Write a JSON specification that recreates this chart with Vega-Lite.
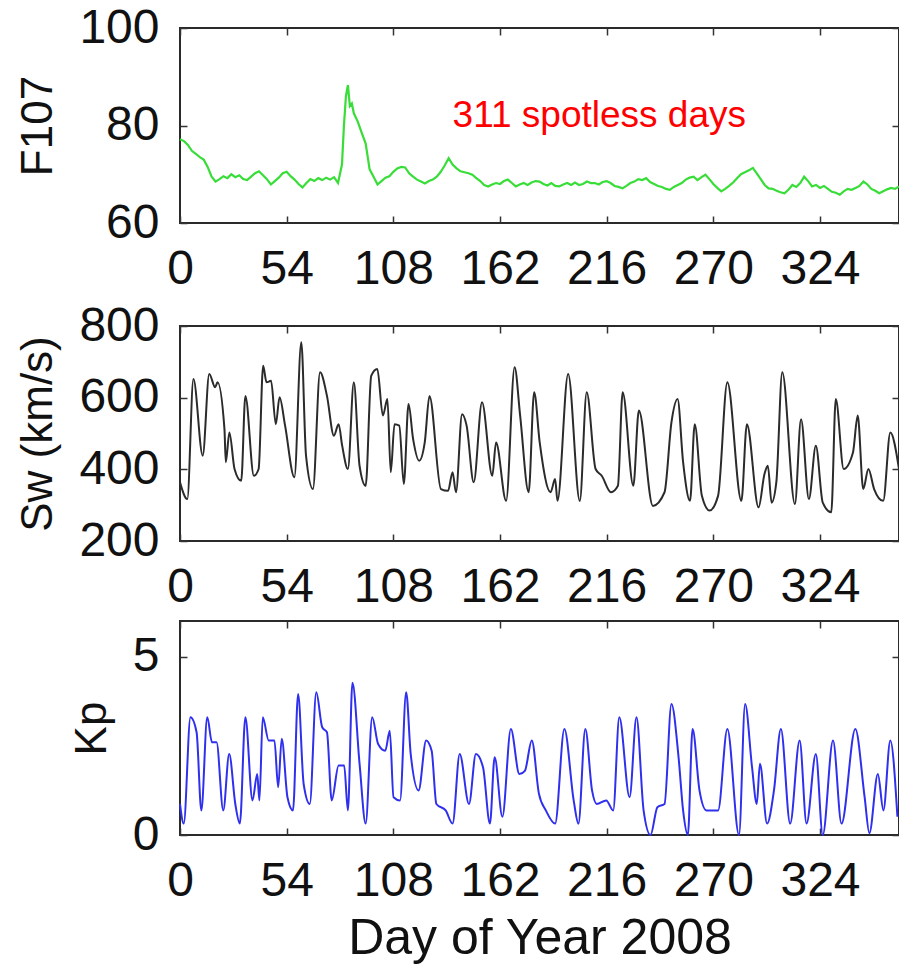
{
  "$schema": "https://vega.github.io/schema/vega-lite/v6.json",
  "background": "#ffffff",
  "padding": {"left": 15, "top": 3, "right": 0, "bottom": 2},
  "spacing": 7,
  "config": {
    "font": "Liberation Sans",
    "view": {"stroke": "#2a2a2a", "strokeWidth": 2},
    "axis": {
      "domain": false,
      "grid": false,
      "tickColor": "#333333",
      "tickSize": -7,
      "tickWidth": 1.5,
      "labelFontSize": 48,
      "labelColor": "#111111",
      "labelFlush": false,
      "labelOverlap": false,
      "titleFontSize": 44,
      "titleFontWeight": "normal",
      "titleColor": "#111111"
    },
    "axisX": {"labelPadding": 29},
    "axisY": {"labelPadding": 28, "titlePadding": 18}
  },
  "datasets": {
    "f107": [
      {"day": 0, "v": 77.2}, {"day": 2, "v": 76.8}, {"day": 4, "v": 76.0}, {"day": 6, "v": 74.8}, {"day": 8, "v": 74.2},
      {"day": 10, "v": 73.5}, {"day": 12, "v": 73.0}, {"day": 14, "v": 71.5}, {"day": 16, "v": 69.5}, {"day": 18, "v": 68.5},
      {"day": 20, "v": 69.0}, {"day": 22, "v": 69.6}, {"day": 24, "v": 69.2}, {"day": 26, "v": 70.0}, {"day": 28, "v": 69.4},
      {"day": 30, "v": 69.8}, {"day": 32, "v": 69.0}, {"day": 34, "v": 68.8}, {"day": 36, "v": 69.5}, {"day": 38, "v": 70.2},
      {"day": 40, "v": 70.6}, {"day": 42, "v": 69.8}, {"day": 44, "v": 69.0}, {"day": 46, "v": 67.9}, {"day": 48, "v": 68.6},
      {"day": 50, "v": 69.3}, {"day": 52, "v": 70.2}, {"day": 54, "v": 70.5}, {"day": 56, "v": 69.6}, {"day": 58, "v": 68.9},
      {"day": 60, "v": 68.0}, {"day": 62, "v": 67.3}, {"day": 64, "v": 68.2}, {"day": 66, "v": 69.0}, {"day": 68, "v": 68.6},
      {"day": 70, "v": 69.2}, {"day": 72, "v": 68.8}, {"day": 74, "v": 69.3}, {"day": 76, "v": 68.9}, {"day": 78, "v": 69.4},
      {"day": 80, "v": 68.2}, {"day": 82, "v": 72.0}, {"day": 83, "v": 80.0}, {"day": 84, "v": 86.0}, {"day": 85, "v": 88.3},
      {"day": 86, "v": 84.0}, {"day": 87, "v": 84.5}, {"day": 88, "v": 82.5}, {"day": 90, "v": 80.8}, {"day": 92, "v": 78.5},
      {"day": 94, "v": 76.3}, {"day": 96, "v": 71.0}, {"day": 98, "v": 69.5}, {"day": 100, "v": 67.9}, {"day": 102, "v": 68.6},
      {"day": 104, "v": 69.3}, {"day": 106, "v": 69.6}, {"day": 108, "v": 70.5}, {"day": 110, "v": 71.2}, {"day": 112, "v": 71.5},
      {"day": 114, "v": 71.4}, {"day": 116, "v": 70.2}, {"day": 118, "v": 69.5}, {"day": 120, "v": 68.9}, {"day": 122, "v": 68.5},
      {"day": 124, "v": 68.1}, {"day": 126, "v": 68.6}, {"day": 128, "v": 68.9}, {"day": 130, "v": 69.5}, {"day": 132, "v": 70.5},
      {"day": 134, "v": 71.8}, {"day": 136, "v": 73.3}, {"day": 138, "v": 72.0}, {"day": 140, "v": 71.2}, {"day": 142, "v": 70.6},
      {"day": 144, "v": 70.4}, {"day": 146, "v": 70.2}, {"day": 148, "v": 69.9}, {"day": 150, "v": 69.2}, {"day": 152, "v": 68.6},
      {"day": 154, "v": 67.8}, {"day": 156, "v": 67.5}, {"day": 158, "v": 67.9}, {"day": 160, "v": 68.2}, {"day": 162, "v": 68.0},
      {"day": 164, "v": 68.6}, {"day": 166, "v": 68.9}, {"day": 168, "v": 68.2}, {"day": 170, "v": 67.5}, {"day": 172, "v": 67.9},
      {"day": 174, "v": 68.2}, {"day": 176, "v": 67.8}, {"day": 178, "v": 68.3}, {"day": 180, "v": 68.6}, {"day": 182, "v": 68.5},
      {"day": 184, "v": 68.0}, {"day": 186, "v": 67.7}, {"day": 188, "v": 68.2}, {"day": 190, "v": 67.6}, {"day": 192, "v": 67.5},
      {"day": 194, "v": 67.9}, {"day": 196, "v": 68.2}, {"day": 198, "v": 67.8}, {"day": 200, "v": 68.3}, {"day": 202, "v": 67.8},
      {"day": 204, "v": 68.0}, {"day": 206, "v": 68.5}, {"day": 208, "v": 68.2}, {"day": 210, "v": 68.2}, {"day": 212, "v": 67.9},
      {"day": 214, "v": 68.4}, {"day": 216, "v": 68.6}, {"day": 218, "v": 68.2}, {"day": 220, "v": 67.6}, {"day": 222, "v": 67.4},
      {"day": 224, "v": 67.1}, {"day": 226, "v": 67.6}, {"day": 228, "v": 68.2}, {"day": 230, "v": 68.5}, {"day": 232, "v": 69.0},
      {"day": 234, "v": 68.8}, {"day": 236, "v": 69.2}, {"day": 238, "v": 68.4}, {"day": 240, "v": 68.0}, {"day": 242, "v": 67.6},
      {"day": 244, "v": 67.4}, {"day": 246, "v": 67.0}, {"day": 248, "v": 66.8}, {"day": 250, "v": 67.4}, {"day": 252, "v": 67.8},
      {"day": 254, "v": 68.2}, {"day": 256, "v": 68.9}, {"day": 258, "v": 69.3}, {"day": 260, "v": 69.5}, {"day": 262, "v": 68.8},
      {"day": 264, "v": 69.4}, {"day": 266, "v": 69.9}, {"day": 268, "v": 69.0}, {"day": 270, "v": 68.0}, {"day": 272, "v": 67.2},
      {"day": 274, "v": 66.5}, {"day": 276, "v": 67.0}, {"day": 278, "v": 67.6}, {"day": 280, "v": 68.3}, {"day": 282, "v": 69.2},
      {"day": 284, "v": 70.0}, {"day": 286, "v": 70.4}, {"day": 288, "v": 70.8}, {"day": 290, "v": 71.3}, {"day": 292, "v": 70.2},
      {"day": 294, "v": 69.0}, {"day": 296, "v": 67.8}, {"day": 298, "v": 67.1}, {"day": 300, "v": 67.0}, {"day": 302, "v": 66.6},
      {"day": 304, "v": 66.3}, {"day": 306, "v": 66.1}, {"day": 308, "v": 66.8}, {"day": 310, "v": 67.8}, {"day": 312, "v": 67.4},
      {"day": 314, "v": 68.2}, {"day": 316, "v": 69.5}, {"day": 318, "v": 68.6}, {"day": 320, "v": 67.5}, {"day": 322, "v": 67.8},
      {"day": 324, "v": 67.2}, {"day": 326, "v": 67.6}, {"day": 328, "v": 67.0}, {"day": 330, "v": 66.4}, {"day": 332, "v": 66.2},
      {"day": 334, "v": 65.8}, {"day": 336, "v": 66.5}, {"day": 338, "v": 67.0}, {"day": 340, "v": 66.8}, {"day": 342, "v": 67.2},
      {"day": 344, "v": 67.6}, {"day": 346, "v": 68.5}, {"day": 348, "v": 67.9}, {"day": 350, "v": 67.0}, {"day": 352, "v": 66.6},
      {"day": 354, "v": 66.1}, {"day": 356, "v": 66.5}, {"day": 358, "v": 66.9}, {"day": 360, "v": 67.2}, {"day": 362, "v": 67.0},
      {"day": 364, "v": 67.5}
    ],
    "sw": [
      {"day": 0, "v": 364}, {"day": 3.7, "v": 317}, {"day": 6.8, "v": 652}, {"day": 11.5, "v": 438}, {"day": 14.8, "v": 666},
      {"day": 17.8, "v": 629}, {"day": 19, "v": 643}, {"day": 22.5, "v": 513}, {"day": 23.2, "v": 420}, {"day": 25, "v": 503},
      {"day": 27.6, "v": 401}, {"day": 31, "v": 368}, {"day": 33.1, "v": 605}, {"day": 37.4, "v": 382}, {"day": 39.8, "v": 401},
      {"day": 42.1, "v": 689}, {"day": 43.8, "v": 643}, {"day": 46.1, "v": 647}, {"day": 48.5, "v": 526}, {"day": 50.4, "v": 601},
      {"day": 53.2, "v": 522}, {"day": 57.9, "v": 378}, {"day": 61.4, "v": 755}, {"day": 63.8, "v": 438}, {"day": 67.3, "v": 345},
      {"day": 70.9, "v": 671}, {"day": 74.4, "v": 605}, {"day": 77.9, "v": 494}, {"day": 80.3, "v": 526}, {"day": 82.1, "v": 466},
      {"day": 85, "v": 401}, {"day": 88, "v": 643}, {"day": 90.9, "v": 410}, {"day": 94, "v": 354}, {"day": 96.8, "v": 661},
      {"day": 99.9, "v": 680}, {"day": 102.7, "v": 550}, {"day": 105, "v": 596}, {"day": 106.7, "v": 392}, {"day": 108.6, "v": 526},
      {"day": 111, "v": 522}, {"day": 113.3, "v": 359}, {"day": 115.7, "v": 582}, {"day": 118, "v": 485}, {"day": 121.1, "v": 424},
      {"day": 123.9, "v": 475}, {"day": 126.3, "v": 605}, {"day": 132.1, "v": 345}, {"day": 135.7, "v": 340}, {"day": 138, "v": 392},
      {"day": 139.7, "v": 336}, {"day": 142.8, "v": 554}, {"day": 145.1, "v": 522}, {"day": 148.7, "v": 364}, {"day": 152.9, "v": 587},
      {"day": 158.1, "v": 382}, {"day": 160, "v": 475}, {"day": 165.1, "v": 312}, {"day": 169.4, "v": 685}, {"day": 172.2, "v": 550},
      {"day": 176.5, "v": 336}, {"day": 179.3, "v": 615}, {"day": 182.1, "v": 475}, {"day": 187.6, "v": 336}, {"day": 189.9, "v": 373},
      {"day": 191.1, "v": 312}, {"day": 196.5, "v": 666}, {"day": 202.4, "v": 312}, {"day": 205.9, "v": 615}, {"day": 210.4, "v": 401},
      {"day": 213.5, "v": 382}, {"day": 218.2, "v": 336}, {"day": 221.7, "v": 354}, {"day": 224.1, "v": 615}, {"day": 229.5, "v": 354},
      {"day": 232.3, "v": 564}, {"day": 239.4, "v": 298}, {"day": 245.3, "v": 336}, {"day": 248.8, "v": 531}, {"day": 251.9, "v": 596},
      {"day": 254.7, "v": 420}, {"day": 258.2, "v": 312}, {"day": 260.6, "v": 526}, {"day": 264.2, "v": 326}, {"day": 268.1, "v": 285},
      {"day": 272.4, "v": 326}, {"day": 277.1, "v": 643}, {"day": 284.2, "v": 312}, {"day": 287, "v": 526}, {"day": 292.9, "v": 294},
      {"day": 295.9, "v": 387}, {"day": 297.6, "v": 410}, {"day": 299.5, "v": 307}, {"day": 301.9, "v": 364}, {"day": 304.9, "v": 671},
      {"day": 311.3, "v": 303}, {"day": 314.4, "v": 540}, {"day": 318.4, "v": 317}, {"day": 321.9, "v": 466}, {"day": 325.4, "v": 307},
      {"day": 329.7, "v": 280}, {"day": 332, "v": 596}, {"day": 336, "v": 401}, {"day": 340.7, "v": 447}, {"day": 343.1, "v": 550},
      {"day": 345.9, "v": 345}, {"day": 348.5, "v": 401}, {"day": 351.4, "v": 345}, {"day": 356, "v": 312}, {"day": 359.6, "v": 503},
      {"day": 364, "v": 401}
    ],
    "kp": [
      {"day": 0, "v": 0.87}, {"day": 1.9, "v": 0.32}, {"day": 5.3, "v": 3.3}, {"day": 8.4, "v": 2.88}, {"day": 10.8, "v": 0.69},
      {"day": 13.8, "v": 3.3}, {"day": 16.2, "v": 2.6}, {"day": 18.5, "v": 2.6}, {"day": 21.9, "v": 0.69}, {"day": 24.9, "v": 2.27},
      {"day": 28, "v": 0.87}, {"day": 30.3, "v": 0.32}, {"day": 33.1, "v": 3.3}, {"day": 36.7, "v": 0.97}, {"day": 39.1, "v": 1.71},
      {"day": 40.2, "v": 0.97}, {"day": 41.9, "v": 3.3}, {"day": 44.9, "v": 2.65}, {"day": 47.8, "v": 2.65}, {"day": 49.7, "v": 1.34},
      {"day": 51.5, "v": 2.7}, {"day": 54.4, "v": 1.06}, {"day": 57.2, "v": 0.69}, {"day": 59.8, "v": 3.95}, {"day": 62.6, "v": 1.43},
      {"day": 65.7, "v": 0.87}, {"day": 69, "v": 4.0}, {"day": 72, "v": 3.02}, {"day": 74.4, "v": 2.88}, {"day": 76.8, "v": 0.97},
      {"day": 80.3, "v": 1.95}, {"day": 83.1, "v": 1.95}, {"day": 85, "v": 0.69}, {"day": 87.3, "v": 4.27}, {"day": 90.9, "v": 2.0},
      {"day": 94, "v": 0.32}, {"day": 97.3, "v": 3.3}, {"day": 100.3, "v": 2.55}, {"day": 103.9, "v": 2.36}, {"day": 106.2, "v": 2.92},
      {"day": 108.1, "v": 1.06}, {"day": 111.4, "v": 0.97}, {"day": 114.5, "v": 4.0}, {"day": 116.8, "v": 2.27}, {"day": 120.8, "v": 1.25},
      {"day": 124.6, "v": 2.65}, {"day": 127.4, "v": 2.36}, {"day": 129.8, "v": 0.87}, {"day": 134.5, "v": 0.69}, {"day": 138, "v": 0.32},
      {"day": 141.6, "v": 2.27}, {"day": 146.3, "v": 0.87}, {"day": 149.8, "v": 2.27}, {"day": 153.4, "v": 1.9}, {"day": 156.9, "v": 0.32},
      {"day": 159.3, "v": 2.18}, {"day": 163.2, "v": 0.51}, {"day": 167.5, "v": 2.97}, {"day": 171.8, "v": 1.71}, {"day": 174.6, "v": 1.8},
      {"day": 178.1, "v": 2.65}, {"day": 181.7, "v": 1.16}, {"day": 185.2, "v": 0.69}, {"day": 189.9, "v": 0.32}, {"day": 194.6, "v": 2.97},
      {"day": 199.3, "v": 0.97}, {"day": 201.7, "v": 0.32}, {"day": 205.2, "v": 2.97}, {"day": 208.6, "v": 1.25}, {"day": 211, "v": 0.87},
      {"day": 215.8, "v": 0.97}, {"day": 219.3, "v": 0.69}, {"day": 222.4, "v": 3.3}, {"day": 227.6, "v": 1.06}, {"day": 231.1, "v": 3.3},
      {"day": 234.7, "v": 0.69}, {"day": 238.2, "v": 0.0}, {"day": 241.7, "v": 0.78}, {"day": 245.3, "v": 0.87}, {"day": 248.8, "v": 3.67},
      {"day": 252.4, "v": 2.18}, {"day": 254.7, "v": 0.69}, {"day": 257.1, "v": 0.0}, {"day": 259.5, "v": 2.97}, {"day": 263, "v": 1.25},
      {"day": 266.5, "v": 0.69}, {"day": 272.4, "v": 0.69}, {"day": 277.1, "v": 2.97}, {"day": 283, "v": 0.0}, {"day": 286.1, "v": 3.67},
      {"day": 289.6, "v": 1.9}, {"day": 292, "v": 0.87}, {"day": 293.6, "v": 2.0}, {"day": 297.2, "v": 0.32}, {"day": 300.7, "v": 1.25},
      {"day": 304.2, "v": 2.97}, {"day": 308.9, "v": 0.32}, {"day": 313.7, "v": 2.65}, {"day": 317.2, "v": 0.32}, {"day": 321.9, "v": 2.27},
      {"day": 325.4, "v": 0.0}, {"day": 330.6, "v": 2.65}, {"day": 334.9, "v": 0.32}, {"day": 341.9, "v": 2.97}, {"day": 346.6, "v": 1.06},
      {"day": 349, "v": 0.05}, {"day": 353.3, "v": 1.71}, {"day": 356.1, "v": 0.69}, {"day": 359.6, "v": 2.65}, {"day": 363.2, "v": 0.51}
    ],
    "note": [
      {"day": 138, "v": 79.6, "label": "311 spotless days"}
    ]
  },
  "vconcat": [
    {
      "width": 719,
      "height": 195,
      "layer": [
        {
          "data": {"name": "f107"},
          "mark": {"type": "line", "color": "#38dd38", "strokeWidth": 2.2},
          "encoding": {
            "x": {"field": "day", "type": "quantitative", "scale": {"domain": [0, 364], "nice": false},
                  "axis": {"orient": "bottom", "values": [0, 54, 108, 162, 216, 270, 324], "title": null}},
            "y": {"field": "v", "type": "quantitative", "scale": {"domain": [60, 100], "nice": false, "zero": false},
                  "axis": {"orient": "left", "values": [60, 80, 100], "title": "F107"}}
          }
        },
        {
          "data": {"name": "f107"},
          "mark": {"type": "line", "strokeOpacity": 0},
          "encoding": {
            "x": {"field": "day", "type": "quantitative",
                  "axis": {"orient": "top", "values": [0, 54, 108, 162, 216, 270, 324], "labels": false, "title": null}},
            "y": {"field": "v", "type": "quantitative",
                  "axis": {"orient": "right", "values": [60, 80, 100], "labels": false, "title": null}}
          }
        },
        {
          "data": {"name": "note"},
          "mark": {"type": "text", "align": "left", "baseline": "alphabetic", "fontSize": 37, "color": "#ff0000"},
          "encoding": {
            "x": {"field": "day", "type": "quantitative", "axis": null},
            "y": {"field": "v", "type": "quantitative", "axis": null},
            "text": {"field": "label"}
          }
        }
      ],
      "resolve": {"axis": {"x": "independent", "y": "independent"}}
    },
    {
      "width": 719,
      "height": 215,
      "layer": [
        {
          "data": {"name": "sw"},
          "mark": {"type": "line", "color": "#2b2b2b", "strokeWidth": 2, "interpolate": "monotone"},
          "encoding": {
            "x": {"field": "day", "type": "quantitative", "scale": {"domain": [0, 364], "nice": false},
                  "axis": {"orient": "bottom", "values": [0, 54, 108, 162, 216, 270, 324], "title": null}},
            "y": {"field": "v", "type": "quantitative", "scale": {"domain": [200, 800], "nice": false, "zero": false},
                  "axis": {"orient": "left", "values": [200, 400, 600, 800], "title": "Sw (km/s)"}}
          }
        },
        {
          "data": {"name": "sw"},
          "mark": {"type": "line", "strokeOpacity": 0},
          "encoding": {
            "x": {"field": "day", "type": "quantitative",
                  "axis": {"orient": "top", "values": [0, 54, 108, 162, 216, 270, 324], "labels": false, "title": null}},
            "y": {"field": "v", "type": "quantitative",
                  "axis": {"orient": "right", "values": [200, 400, 600, 800], "labels": false, "title": null}}
          }
        }
      ],
      "resolve": {"axis": {"x": "independent", "y": "independent"}}
    },
    {
      "width": 719,
      "height": 214,
      "layer": [
        {
          "data": {"name": "kp"},
          "mark": {"type": "line", "color": "#2f2fee", "strokeWidth": 2, "interpolate": "monotone"},
          "encoding": {
            "x": {"field": "day", "type": "quantitative", "scale": {"domain": [0, 364], "nice": false},
                  "axis": {"orient": "bottom", "values": [0, 54, 108, 162, 216, 270, 324], "title": "Day of Year 2008", "titleFontSize": 50, "titlePadding": 8}},
            "y": {"field": "v", "type": "quantitative", "scale": {"domain": [0, 6], "nice": false},
                  "axis": {"orient": "left", "values": [0, 5], "title": "Kp"}}
          }
        },
        {
          "data": {"name": "kp"},
          "mark": {"type": "line", "strokeOpacity": 0},
          "encoding": {
            "x": {"field": "day", "type": "quantitative",
                  "axis": {"orient": "top", "values": [0, 54, 108, 162, 216, 270, 324], "labels": false, "title": null}},
            "y": {"field": "v", "type": "quantitative",
                  "axis": {"orient": "right", "values": [0, 5], "labels": false, "title": null}}
          }
        }
      ],
      "resolve": {"axis": {"x": "independent", "y": "independent"}}
    }
  ]
}
